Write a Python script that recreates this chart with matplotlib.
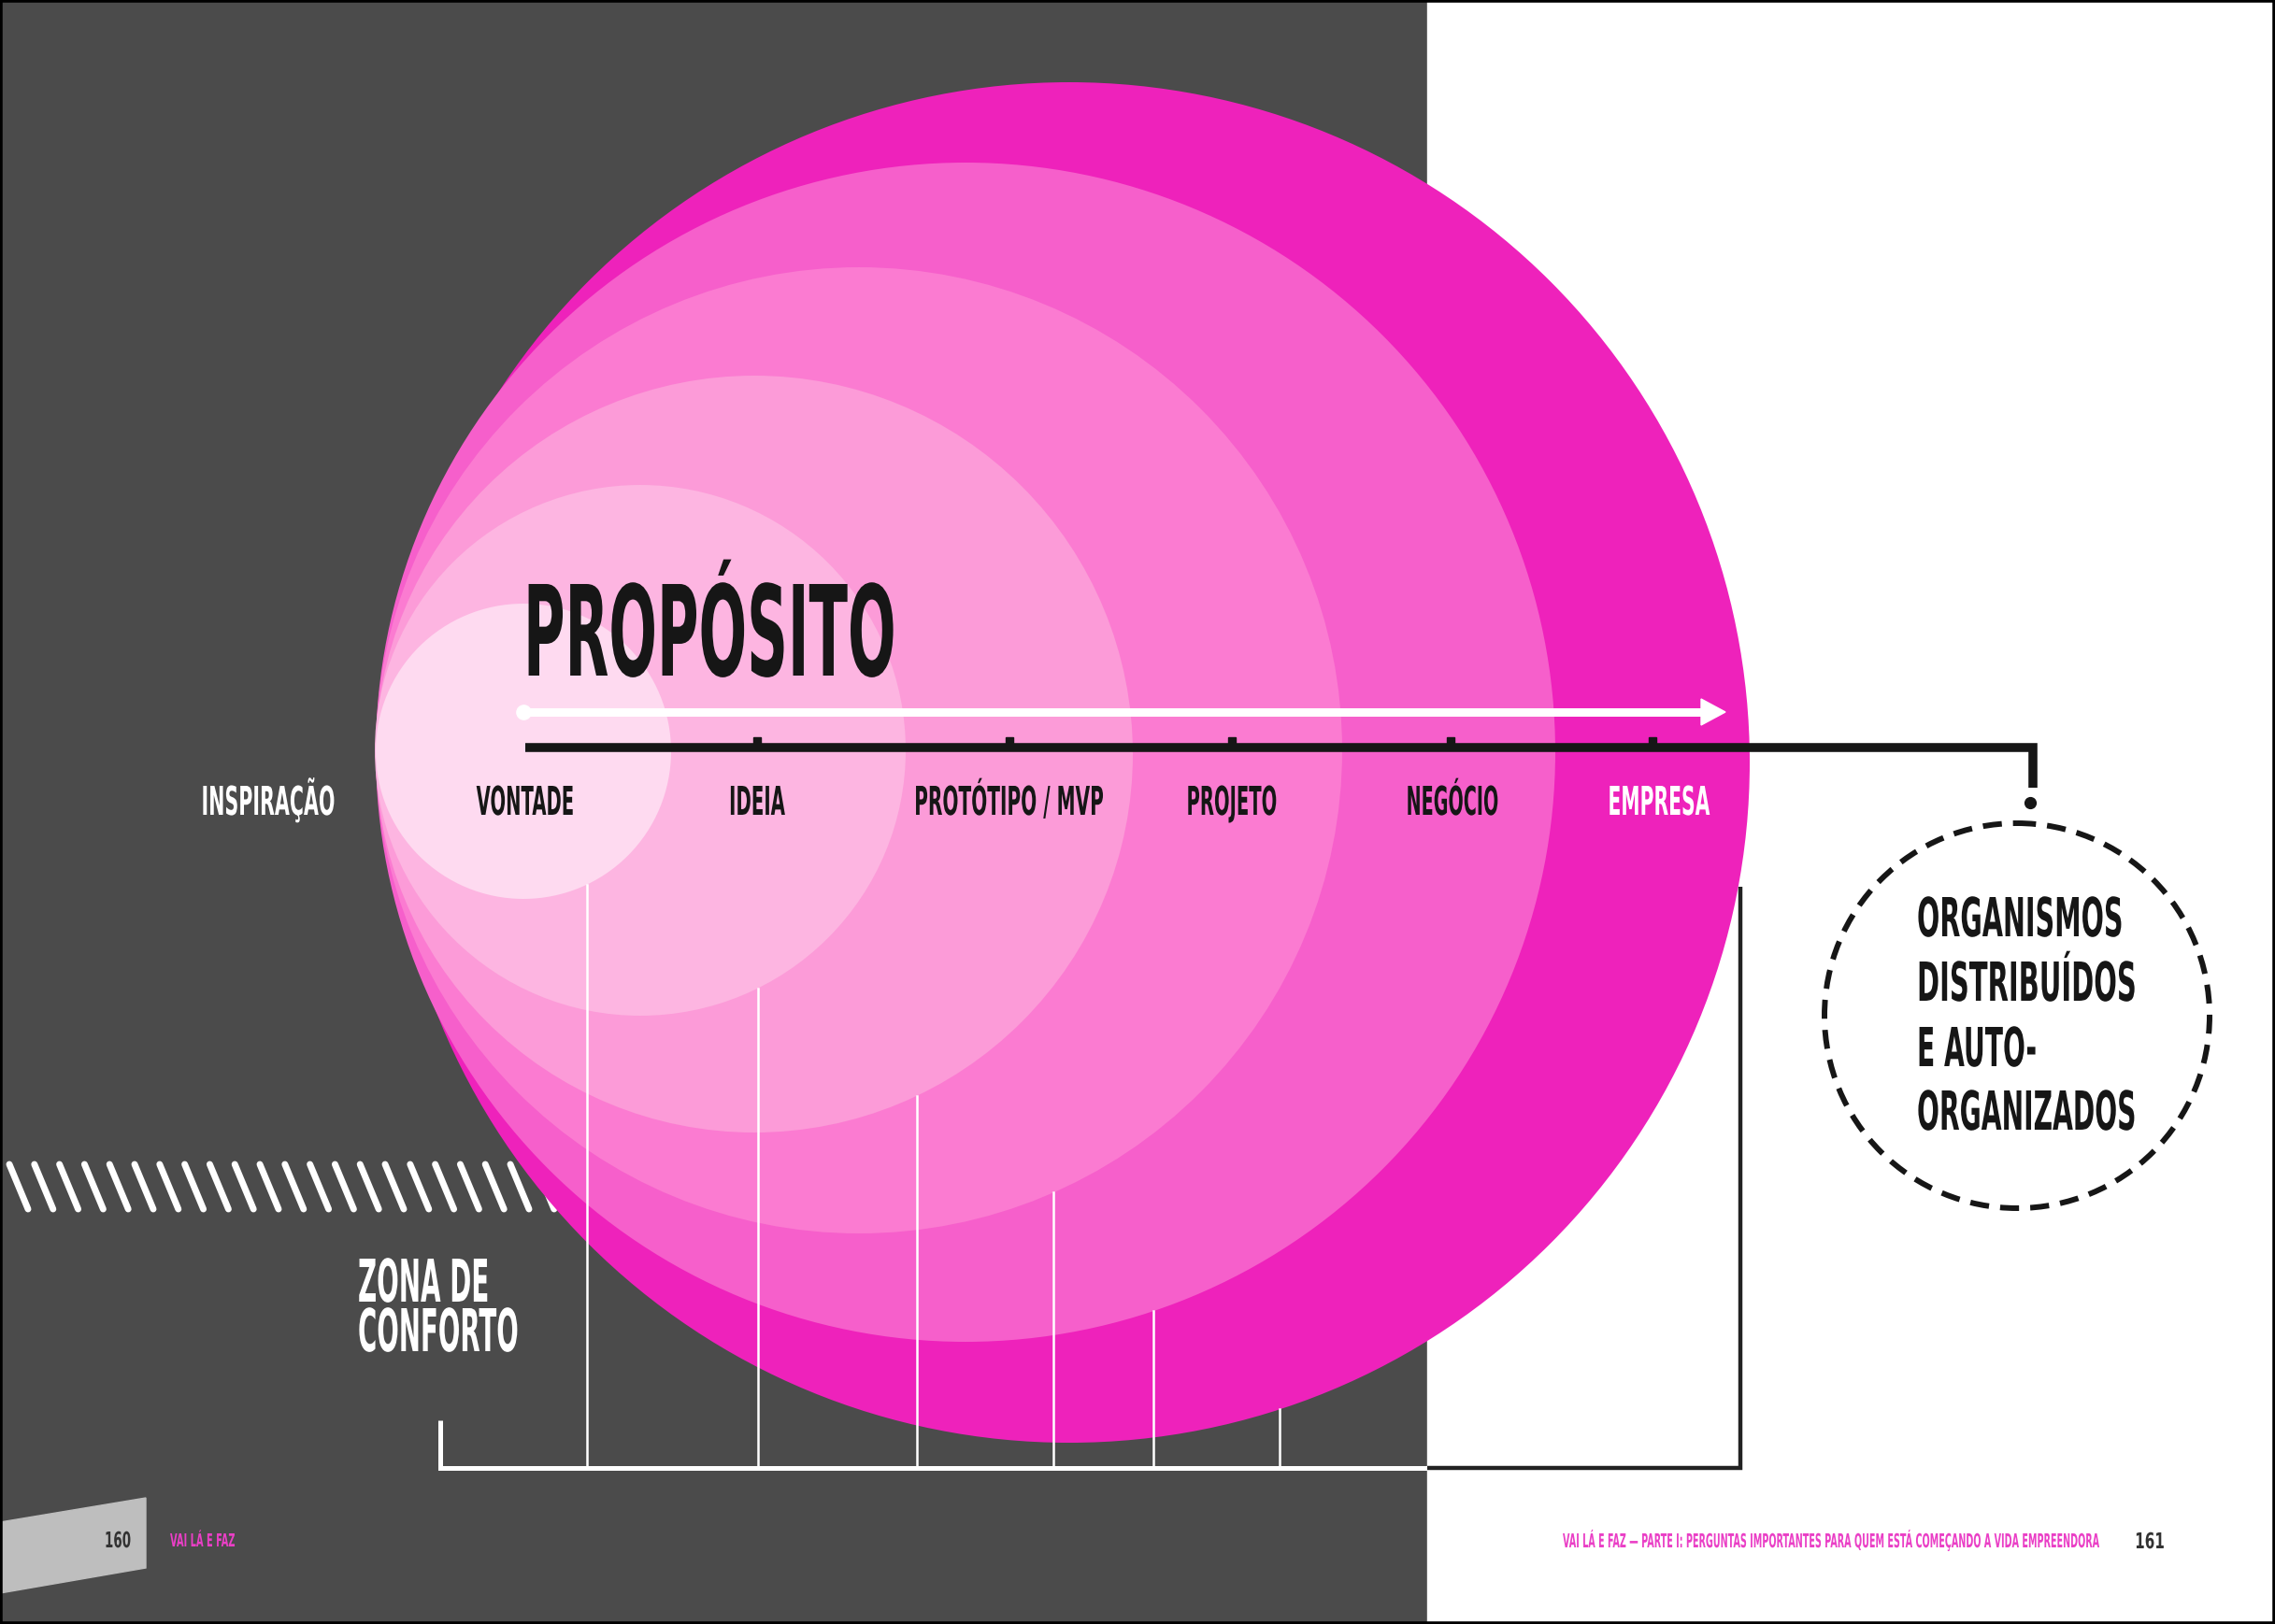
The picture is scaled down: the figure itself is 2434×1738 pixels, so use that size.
import numpy as np
import matplotlib
matplotlib.use('Agg')
import matplotlib.pyplot as plt
from matplotlib.patches import Circle, Rectangle, Polygon
from matplotlib.patheffects import AbstractPathEffect
from matplotlib.transforms import Affine2D
from matplotlib.textpath import TextPath
from matplotlib.font_manager import FontProperties

# ---- content ----
stages = ['INSPIRAÇÃO', 'VONTADE', 'IDEIA', 'PROTÓTIPO / MVP', 'PROJETO', 'NEGÓCIO', 'EMPRESA']
stage_colors = ['white', '#161616', '#161616', '#161616', '#161616', '#161616', 'white']
title = 'PROPÓSITO'
zone_lines = ['ZONA DE', 'CONFORTO']
goal_lines = ['ORGANISMOS', 'DISTRIBUÍDOS', 'E AUTO-', 'ORGANIZADOS']
footer_left = ['160', 'VAI LÁ E FAZ']
footer_right = ['VAI LÁ E FAZ — PARTE I: PERGUNTAS IMPORTANTES PARA QUEM ESTÁ COMEÇANDO A VIDA EMPREENDORA', '161']

# nested circles, smallest to largest (pixel space of the page)
circle_cx = [560, 685, 807, 919, 1033, 1144]
circle_cy = [804, 803, 807, 803, 805, 816]
circle_r = [158, 284, 405, 517, 631, 728]
circle_colors = ['#FEDAF0', '#FDB5E1', '#FC9BD8', '#FB7BD1', '#F65FCB', '#EE22BB']

# layout
W, H = 2434, 1738
stage_x = [287, 562, 810, 1080, 1318, 1554, 1775]
stage_w = [140, 103, 58, 200, 94, 96, 107]
tick_x = [810, 1080, 1318, 1552, 1768]
drop_x = [628, 811, 981, 1127, 1234, 1369]
GRAY = '#4B4B4B'
MAGENTA = '#EA3FC6'
DARK = '#161616'
FONT = FontProperties(family='DejaVu Sans', weight='bold')


class Stretch(AbstractPathEffect):
    """stretch glyphs upward from the baseline -> tall condensed display face"""
    def __init__(self, sy):
        super().__init__()
        self.sy = sy

    def draw_path(self, renderer, gc, tpath, affine, rgbFace=None):
        t = Affine2D().scale(1, self.sy) + affine
        renderer.draw_path(gc, tpath, t, rgbFace)


def cond_text(x, y, s, cap, width, color, ha='center', z=20):
    # font size picked so the ink width matches, then stretched to the cap height
    w100 = TextPath((0, 0), s, size=100, prop=FONT).get_extents().width
    size_px = 100 * width / w100
    sy = cap / (0.729 * size_px)
    ax.text(x, y, s, fontsize=size_px * 0.72, fontproperties=FONT, color=color,
            ha=ha, va='baseline', zorder=z, path_effects=[Stretch(sy)])


fig = plt.figure(figsize=(W / 100, H / 100), dpi=100)
ax = fig.add_axes([0, 0, 1, 1])
ax.set_xlim(0, W)
ax.set_ylim(H, 0)
ax.axis('off')

# page backgrounds
ax.add_patch(Rectangle((0, 0), 1527, H, color=GRAY, zorder=0))
ax.add_patch(Rectangle((1527, 0), W - 1527, H, color='white', zorder=0))

# comfort-zone hatching (runs under the circle)
for hx in np.arange(10, 700, 26.8):
    ax.plot([hx, hx + 20], [1246, 1294], color='white', lw=5.0, solid_capstyle='round', zorder=1)

# nested circles, largest at the back
for i in range(len(circle_r) - 1, -1, -1):
    ax.add_patch(Circle((circle_cx[i], circle_cy[i]), circle_r[i], color=circle_colors[i],
                        zorder=2 + (len(circle_r) - i), lw=0))

# drop lines from each circle's lower edge to the bracket
for i, dx in enumerate(drop_x):
    top = circle_cy[i] + np.sqrt(circle_r[i] ** 2 - (dx - circle_cx[i]) ** 2)
    ax.plot([dx, dx], [top, 1571], color='white', lw=1.8, zorder=10)

# bracket
ax.plot([471, 471, 1527], [1520, 1571, 1571], color='white', lw=3.6, zorder=11,
        solid_joinstyle='miter', solid_capstyle='butt')
ax.plot([1527, 1862, 1862], [1571, 1571, 949], color='#222222', lw=3.2, zorder=11,
        solid_joinstyle='miter', solid_capstyle='butt')

# white purpose arrow
ax.plot([560, 1822], [762, 762], color='white', lw=6.5, solid_capstyle='butt', zorder=12)
ax.add_patch(Polygon([[1820, 748], [1846, 762], [1820, 776]], closed=True, color='white', zorder=12))
ax.plot([560], [762], 'o', color='white', ms=11, zorder=12)

# black stage axis
ax.plot([562, 2175, 2175], [800, 800, 843], color=DARK, lw=6.9, solid_joinstyle='miter',
        solid_capstyle='butt', zorder=12)
for tx in tick_x:
    ax.add_patch(Rectangle((tx - 4, 789), 8, 12, color=DARK, zorder=12))
ax.plot([2172], [859], 'o', color=DARK, ms=8.5, zorder=12)

# dashed goal circle
ax.add_patch(Circle((2158, 1087), 206, fill=False, ec=DARK, lw=4.3,
                    linestyle=(0, (3.4, 2.0)), zorder=12))

# texts
cond_text(560, 723, title, 98, 390, DARK, ha='left')
for s, x, w, c in zip(stages, stage_x, stage_w, stage_colors):
    cond_text(x, 872, s, 31, w, c)
for s, y, w in zip(zone_lines, [1393, 1446], [137, 169]):
    cond_text(383, y, s, 46, w, 'white', ha='left')
for s, y, w in zip(goal_lines, [1002, 1071, 1141, 1209], [217, 230, 124, 231]):
    cond_text(2051, y, s, 42, w, DARK, ha='left')

# footer
ax.add_patch(Polygon([[0, 1629], [156, 1603], [156, 1678], [0, 1705]], closed=True,
                     color='#BEBEBE', zorder=1))
cond_text(126, 1656, footer_left[0], 17, 26, '#333333')
cond_text(182, 1655, footer_left[1], 14, 69, MAGENTA, ha='left')
cond_text(1672, 1656, footer_right[0], 15, 574, MAGENTA, ha='left')
cond_text(2300, 1657, footer_right[1], 17, 29, '#333333')

# page frame
ax.add_patch(Rectangle((0, 0), W, H, fill=False, ec='black', lw=4, zorder=30))

fig.savefig('out.png', dpi=100)
